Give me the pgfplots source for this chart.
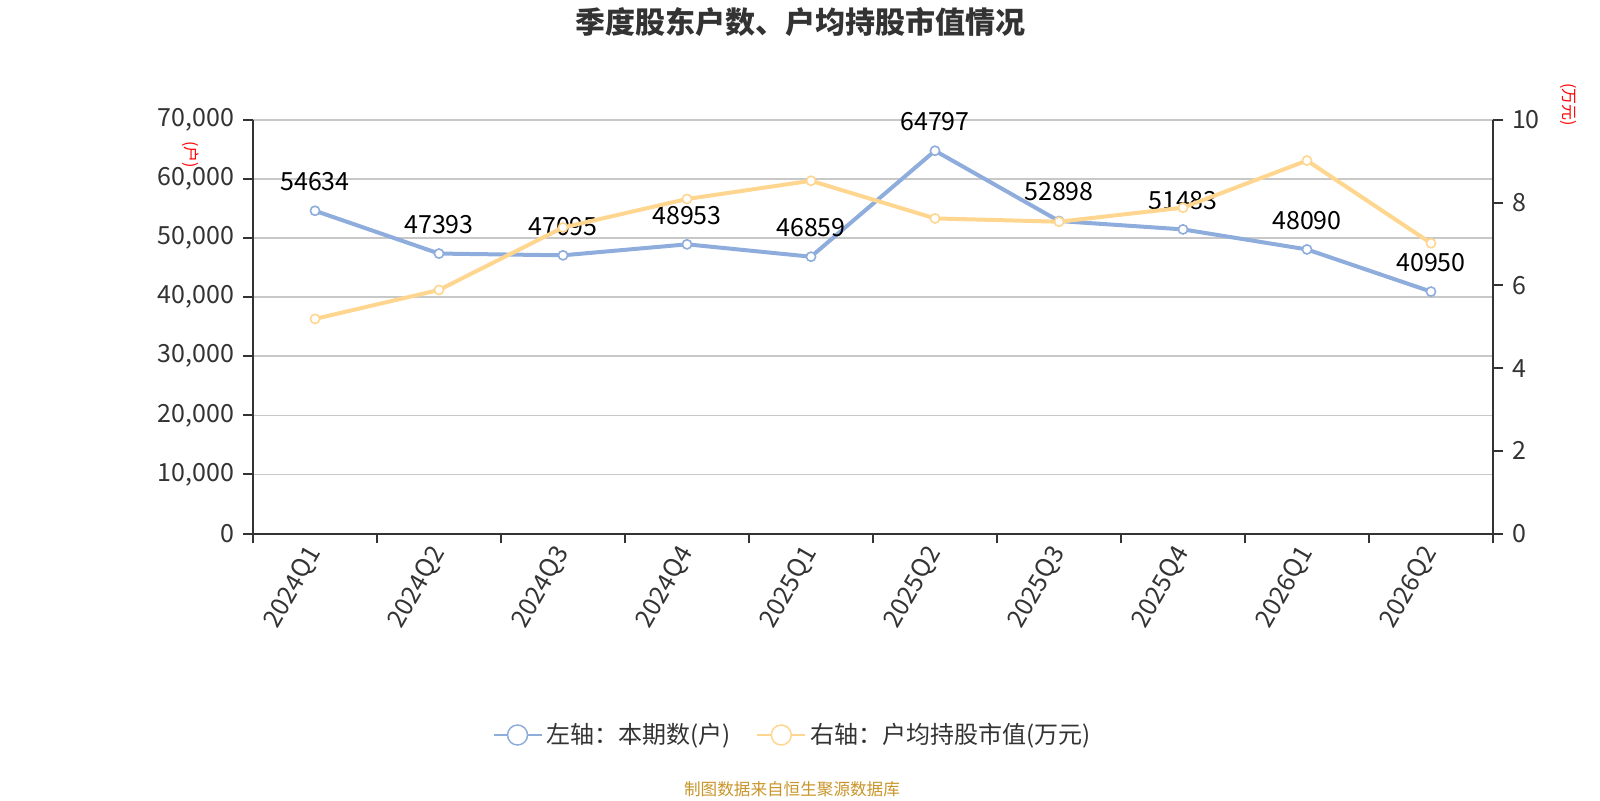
\documentclass[border=0pt]{standalone}
\usepackage{pgfplots}
\pgfplotsset{compat=1.18}
\usepackage{fontspec}
\setmainfont{Noto Sans CJK SC}
\definecolor{blueL}{HTML}{8EADDC}
\definecolor{yelL}{HTML}{FFD68F}
\definecolor{txt}{HTML}{333333}
\definecolor{foot}{HTML}{C9952A}
\definecolor{gridc}{HTML}{C8C8C8}
\begin{document}
\begin{tikzpicture}
\path[use as bounding box] (0pt,0pt) rectangle (800pt,400pt);
\node[font=\bfseries\fontsize{15}{18}\selectfont, text=txt] at (400pt,388.8pt) {季度股东户数、户均持股市值情况};
\node[font=\fontsize{8.3}{10}\selectfont, text=foot] at (396pt,5.5pt) {制图数据来自恒生聚源数据库};
\node[font=\fontsize{8}{10}\selectfont, text=red, rotate=-90] at (95.5pt,322.5pt) {(户)};
\node[font=\fontsize{8}{10}\selectfont, text=red, rotate=-90] at (784pt,347.5pt) {(万元)};
\begin{axis}[
  at={(126.5pt,133.25pt)}, anchor=south west,
  scale only axis, width=620pt, height=206.75pt,
  xmin=-0.5, xmax=9.5, ymin=0, ymax=70000,
  ytick={0,10000,...,70000},
  scaled y ticks=false,
  /pgf/number format/.cd, 1000 sep={,}, assume math mode=true, /pgfplots/.cd,
  axis y line*=left, axis x line*=bottom,
  axis line style={draw=txt, line width=1pt},
  ymajorgrids, grid style={draw=gridc, line width=0.85pt},
  xtick={0,...,9},
  xticklabels={2024Q1,2024Q2,2024Q3,2024Q4,2025Q1,2025Q2,2025Q3,2025Q4,2026Q1,2026Q2},
  minor xtick={-0.5,0.5,...,9.5},
  tick align=outside,
  major tick length=5pt, minor tick length=4.5pt,
  major x tick style={draw=none},
  minor x tick style={draw=txt, line width=1pt},
  major y tick style={draw=txt, line width=1pt},
  tick label style={font=\fontsize{12.5}{14}\selectfont, text=txt},
  xticklabel style={rotate=60, anchor=east, xshift=1pt, yshift=-1.5pt},
  yticklabel style={xshift=-1pt},
  clip=false,
]
\addplot[color=blueL, line width=2pt, mark=*, mark size=2.3pt,
  mark options={fill=white, draw=blueL, line width=0.8pt},
  nodes near coords, point meta=explicit symbolic,
  every node near coord/.append style={font=\fontsize{12.5}{14}\selectfont, text=black, anchor=center, yshift=14.5pt}]
coordinates {
(0,54634)[54634] (1,47393)[47393] (2,47095)[47095] (3,48953)[48953] (4,46859)[46859]
(5,64797)[64797] (6,52898)[52898] (7,51483)[51483] (8,48090)[48090] (9,40950)[40950]};
\end{axis}
\begin{axis}[
  at={(126.5pt,133.25pt)}, anchor=south west,
  scale only axis, width=620pt, height=206.75pt,
  xmin=-0.5, xmax=9.5, ymin=0, ymax=10,
  ytick={0,2,...,10},
  axis y line*=right, axis x line=none,
  axis line style={draw=txt, line width=1pt},
  tick align=outside, major tick length=5pt,
  major y tick style={draw=txt, line width=1pt},
  /pgf/number format/assume math mode=true,
  tick label style={font=\fontsize{12.5}{14}\selectfont, text=txt},
  yticklabel style={xshift=1pt},
  clip=false,
  legend style={at={(axis description cs:0.4359,-0.4873)}, anchor=center, draw=none, fill=none,
    legend columns=2, font=\fontsize{12}{14}\selectfont, text=txt,
    /tikz/every even column/.append style={column sep=11pt}},
  legend cell align=left,
]
\addlegendimage{legend image code/.code={\draw[blueL, line width=0.75pt] (0pt,0pt) -- (24pt,0pt); \draw[blueL, line width=0.75pt, fill=white] (12pt,0pt) circle (5pt);}}
\addlegendentry{左轴：本期数(户)}
\addlegendimage{legend image code/.code={\draw[yelL, line width=0.75pt] (0pt,0pt) -- (24pt,0pt); \draw[yelL, line width=0.75pt, fill=white] (12pt,0pt) circle (5pt);}}
\addlegendentry{右轴：户均持股市值(万元)}
\addplot[forget plot, color=yelL, line width=2pt, mark=*, mark size=2.3pt,
  mark options={fill=white, draw=yelL, line width=0.8pt}]
coordinates {
(0,5.19) (1,5.89) (2,7.40) (3,8.09) (4,8.53) (5,7.62) (6,7.54) (7,7.88) (8,9.02) (9,7.02)};
\end{axis}
\end{tikzpicture}
\end{document}
